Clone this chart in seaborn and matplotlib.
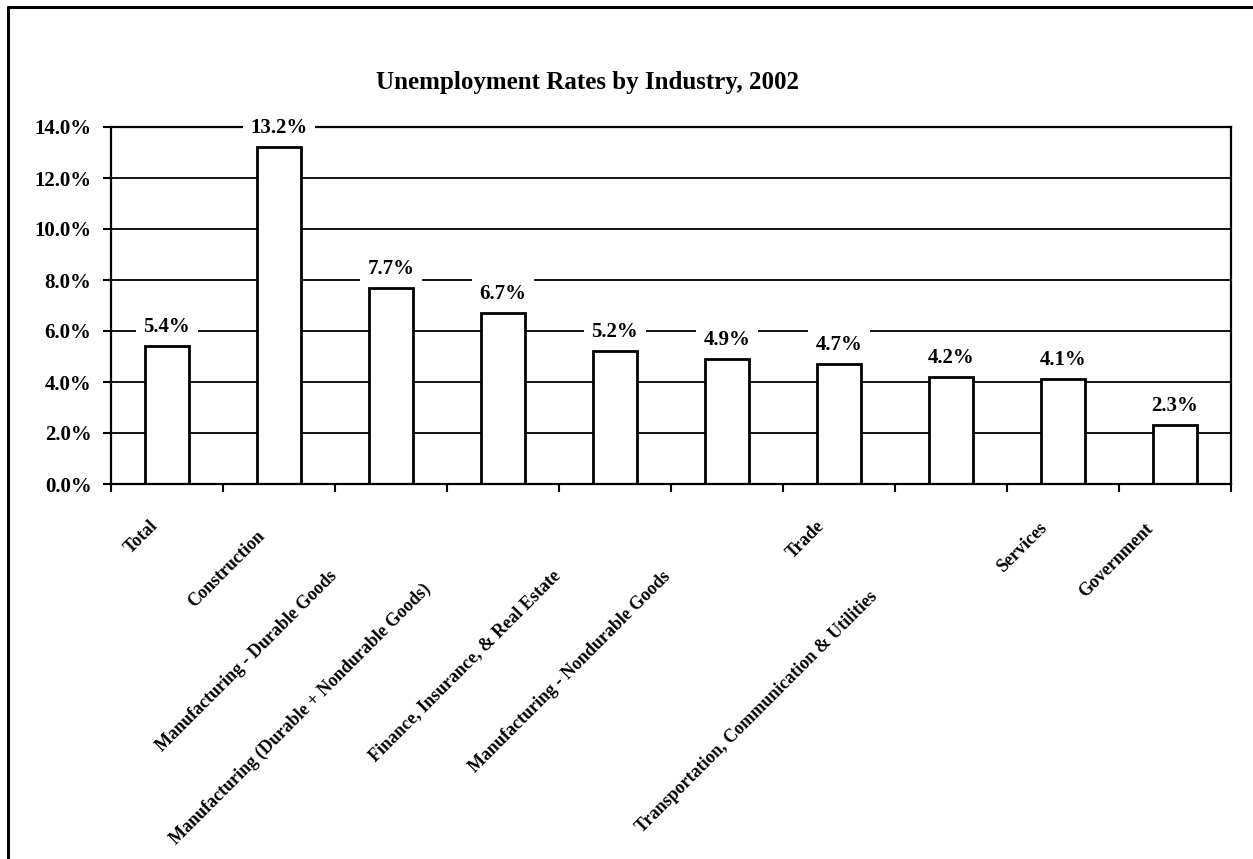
import numpy as np
import pandas as pd
import matplotlib
matplotlib.use('Agg')
import matplotlib.pyplot as plt
from matplotlib.lines import Line2D
import seaborn as sns

# data
industries = ['Total', 'Construction', 'Manufacturing - Durable Goods',
              'Manufacturing (Durable + Nondurable Goods)',
              'Finance, Insurance, & Real Estate',
              'Manufacturing - Nondurable Goods',
              'Trade', 'Transportation, Communication & Utilities',
              'Services', 'Government']
rates = [5.4, 13.2, 7.7, 6.7, 5.2, 4.9, 4.7, 4.2, 4.1, 2.3]
y_ticks = [0, 2, 4, 6, 8, 10, 12, 14]

# where the upper end of each slanted label sits, in pixels from tick / axis
label_dx = [-18, -23, -62, -81, -63, -65, -23, -82, -24, -31]
label_dy = [33, 43, 83, 96, 83, 84, 34, 104, 35, 36]

sns.set_style('white')
plt.rcParams['font.family'] = ['Liberation Serif', 'DejaVu Serif']
plt.rcParams['font.weight'] = 'bold'
plt.rcParams['text.color'] = 'black'
plt.rcParams['xtick.color'] = 'black'
plt.rcParams['ytick.color'] = 'black'
plt.rcParams['axes.labelcolor'] = 'black'

df = pd.DataFrame({'industry': industries, 'rate': rates})

fig = plt.figure(figsize=(12.53, 8.59), dpi=100)
ax = fig.add_axes([111 / 1253, 1 - 484 / 859, 1120 / 1253, 357 / 859])

ax.set_axisbelow(True)
ax.yaxis.grid(True, color='black', linewidth=1.3)
sns.barplot(data=df, x='industry', y='rate', order=industries, color='white',
            edgecolor='black', linewidth=2, width=0.4, saturation=1, ax=ax)

ax.set_ylim(0, 14)
ax.set_xlim(-0.5, len(industries) - 0.5)
ax.set_yticks(y_ticks)
ax.set_yticklabels([f'{v:.1f}%' for v in y_ticks], fontsize=15, fontweight='bold',
                   color='black')
ax.set_xticks(np.arange(len(industries) + 1) - 0.5)
ax.set_xticklabels([])
ax.tick_params(axis='both', which='major', direction='out', length=6, width=1.5,
               color='black', pad=8, left=True, bottom=True)
ax.set_xlabel('')
ax.set_ylabel('')
for side in ['left', 'bottom', 'right', 'top']:
    ax.spines[side].set_visible(True)
    ax.spines[side].set_color('black')
    ax.spines[side].set_linewidth(1.6)

# value labels with white boxes that cut the gridlines
for i, v in enumerate(rates):
    ax.annotate(f'{v:.1f}%', xy=(i, v), xytext=(0, 19), textcoords='offset pixels',
                ha='center', va='center', fontsize=15, fontweight='bold', color='black',
                bbox=dict(boxstyle='square,pad=0.35', fc='white', ec='none'))

# slanted category labels
for i, name in enumerate(industries):
    ax.annotate(name, xy=(i, 0), xycoords=('data', 'axes fraction'),
                xytext=(label_dx[i], -label_dy[i]), textcoords='offset pixels',
                rotation=45, rotation_mode='anchor', ha='right', va='top',
                fontsize=13, fontweight='bold', color='black', annotation_clip=False)

fig.text(587 / 1253, 1 - 82 / 859, 'Unemployment Rates by Industry, 2002',
         ha='center', va='center', fontsize=18, fontweight='bold', color='black')

# outer frame (top and left edges only)
fig.add_artist(Line2D([8 / 1253, 1.0], [1 - 7 / 859, 1 - 7 / 859],
                      transform=fig.transFigure, color='black', linewidth=2.2))
fig.add_artist(Line2D([8 / 1253, 8 / 1253], [0.0, 1 - 7 / 859],
                      transform=fig.transFigure, color='black', linewidth=2.2))

fig.savefig('out.png', dpi=100)
